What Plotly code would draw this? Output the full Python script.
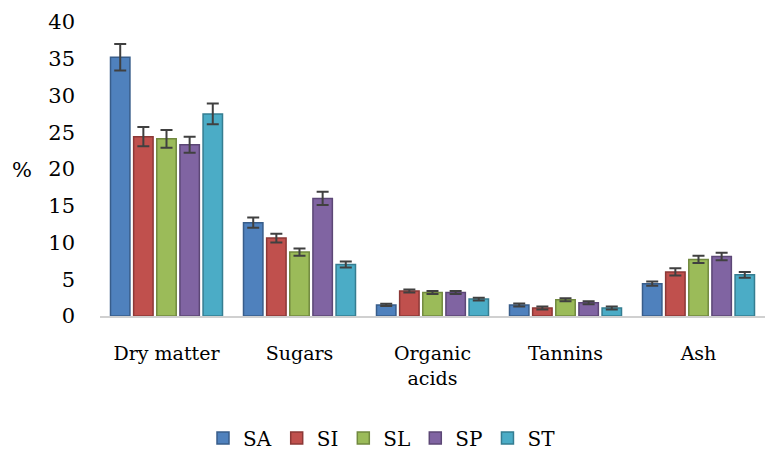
import plotly.graph_objects as go

categories = ["Dry matter", "Sugars", "Organic<br>acids", "Tannins", "Ash"]
series = ["SA", "SI", "SL", "SP", "ST"]
colors = ["#4F81BD", "#C0504D", "#9BBB59", "#8064A2", "#4BACC6"]
edges = ["#385D8A", "#8C3836", "#71893F", "#5C4776", "#357D91"]

sa = [35.2, 12.7, 1.5, 1.5, 4.4]
si = [24.4, 10.6, 3.4, 1.1, 6.0]
sl = [24.1, 8.7, 3.2, 2.2, 7.7]
sp = [23.3, 16.0, 3.2, 1.8, 8.1]
st = [27.5, 7.0, 2.3, 1.1, 5.6]

sa_err = [1.8, 0.7, 0.15, 0.2, 0.3]
si_err = [1.3, 0.6, 0.2, 0.2, 0.5]
sl_err = [1.2, 0.5, 0.2, 0.2, 0.5]
sp_err = [1.1, 0.9, 0.2, 0.2, 0.5]
st_err = [1.4, 0.4, 0.2, 0.2, 0.4]

values = [sa, si, sl, sp, st]
errors = [sa_err, si_err, sl_err, sp_err, st_err]

fig = go.Figure()
for name, vals, errs, col, edge in zip(series, values, errors, colors, edges):
    fig.add_trace(go.Bar(
        name=name, x=categories, y=vals,
        marker=dict(color=col, line=dict(color=edge, width=1.5)),
        error_y=dict(type="data", array=errs, visible=True,
                     color="#404040", thickness=2, width=6),
    ))

serif = "DejaVu Serif"
plot_left, plot_top, plot_bottom = 100, 22, 316
plot_h = plot_bottom - plot_top
plot_w = 765 - plot_left

fig.update_layout(
    width=765, height=455,
    margin=dict(l=plot_left, r=0, t=plot_top, b=455 - plot_bottom,
                autoexpand=False),
    paper_bgcolor="white", plot_bgcolor="white",
    barmode="group", bargap=0.13, bargroupgap=0.16,
    font=dict(family=serif, size=20, color="#000000"),
    xaxis=dict(showline=True, linecolor="#D0D0D0", linewidth=2,
               ticks="", ticklabelstandoff=19, automargin=False,
               tickfont=dict(family=serif, size=19)),
    yaxis=dict(range=[0, 40], dtick=5, showgrid=False, zeroline=False,
               showline=False, ticks="", ticklabelstandoff=24,
               automargin=False,
               tickfont=dict(family=serif, size=21)),
    legend=dict(orientation="h", x=(382 - plot_left) / plot_w,
                xanchor="center",
                y=-(438 - plot_bottom) / plot_h, yanchor="middle",
                font=dict(family=serif, size=20),
                itemwidth=30, traceorder="normal"),
    annotations=[dict(text="%", x=-(plot_left - 22) / plot_w,
                      y=(plot_bottom - 170) / plot_h,
                      xref="paper", yref="paper",
                      xanchor="center", yanchor="middle",
                      showarrow=False, font=dict(family=serif, size=21))],
)

fig.write_html("out.html")
